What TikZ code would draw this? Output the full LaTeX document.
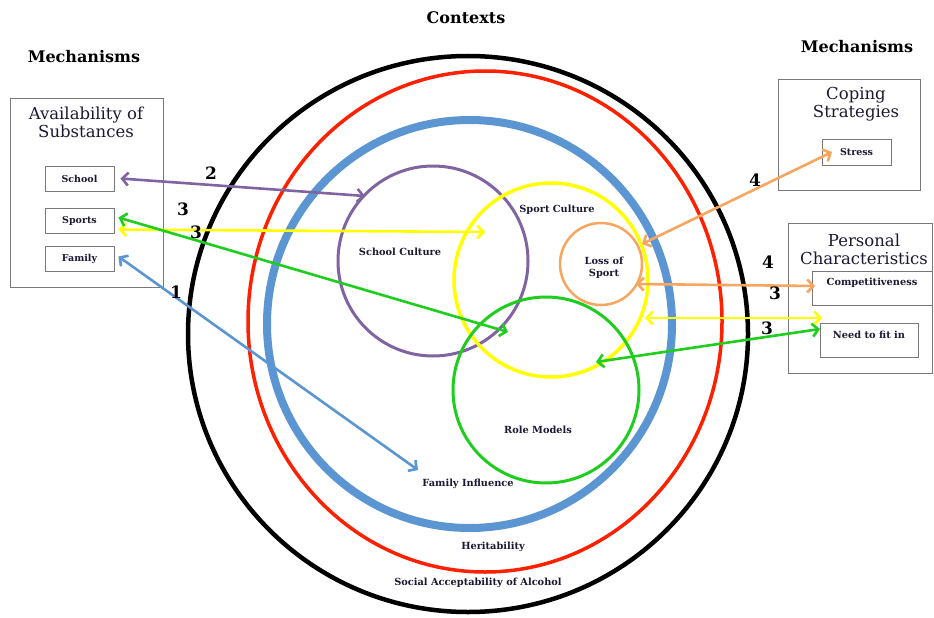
\documentclass[tikz,border=0pt]{standalone}
\usepackage{fontspec}
\setmainfont{DejaVu Serif}
\usetikzlibrary{arrows.meta,shapes.geometric}
\definecolor{cpurple}{RGB}{128,100,162}
\definecolor{cyellow}{RGB}{255,255,0}
\definecolor{cgreen}{RGB}{30,205,30}
\definecolor{cblue}{RGB}{91,150,210}
\definecolor{corange}{RGB}{247,166,95}
\definecolor{cred}{RGB}{255,32,0}
\definecolor{cbox}{RGB}{120,120,120}
\definecolor{ctext}{RGB}{30,25,50}
\tikzset{
  heading/.style={font=\fontsize{16}{18}\selectfont\bfseries, text=black},
  boxtitle/.style={font=\fontsize{16.5}{18}\selectfont, align=center, text=ctext, inner sep=0pt},
  outerbox/.style={draw=cbox, line width=1pt, inner sep=0pt},
  itembox/.style={draw=cbox, line width=0.9pt, inner sep=0pt, font=\fontsize{9.5}{10}\selectfont\bfseries, text=ctext},
  lbl/.style={font=\fontsize{9.8}{11.5}\selectfont\bfseries, text=ctext, align=center, inner sep=0pt},
  num/.style={font=\fontsize{17}{18}\selectfont\bfseries, text=black, inner sep=0pt},
  ring/.style={draw, inner sep=0pt, fill=none},
  conn/.style={line width=2.6pt, {Straight Barb[length=6pt,width=13pt]}-{Straight Barb[length=6pt,width=13pt]}},
}
\begin{document}
\begin{tikzpicture}[x=1pt,y=-1pt]
\useasboundingbox (0,0) rectangle (934,618);
\fill[white] (0,0) rectangle (934,618);

% context rings
\node[ring, ellipse, draw=black, line width=4.5pt, minimum width=560, minimum height=556] (social) at (468,334) {};
\node[ring, ellipse, draw=cred, line width=3.5pt, minimum width=474, minimum height=501] (herit) at (485,321.5) {};
\node[ring, ellipse, draw=cblue, line width=8pt, minimum width=405, minimum height=408] (family) at (469.5,324) {};
\node[ring, circle, draw=cpurple, line width=3pt, minimum size=190] (schoolc) at (433,261) {};
\node[ring, circle, draw=cyellow, line width=3.5pt, minimum size=194] (sportc) at (551,280) {};
\node[ring, circle, draw=corange, line width=2.5pt, minimum size=82] (loss) at (601,264) {};
\node[ring, circle, draw=cgreen, line width=3pt, minimum size=186] (role) at (546,390) {};

% headings
\node[heading] (ctx) at (466,18) {Contexts};
\node[heading] (mechL) at (84,57) {Mechanisms};
\node[heading] (mechR) at (857,47) {Mechanisms};

% left box
\node[outerbox, minimum width=153, minimum height=189] (avail) at (86.5,192.5) {};
\node[boxtitle] (availT) at (86,122) {Availability of\\Substances};
\node[itembox, minimum width=69, minimum height=25] (bschool) at (79.5,178.5) {School};
\node[itembox, minimum width=69, minimum height=25] (bsports) at (79.5,220.5) {Sports};
\node[itembox, minimum width=69, minimum height=25] (bfamily) at (79.5,258.5) {Family};

% right boxes
\node[outerbox, minimum width=142, minimum height=111] (coping) at (849,134.5) {};
\node[boxtitle] (copingT) at (856,104) {Coping\\Strategies};
\node[itembox, minimum width=69, minimum height=26] (bstress) at (856.5,152) {Stress};

\node[outerbox, minimum width=144, minimum height=150] (personal) at (860,298) {};
\node[boxtitle] (personalT) at (864,249) {Personal\\Characteristics};
\node[itembox, minimum width=120, minimum height=34] (bcomp) at (872,288) {};
\node[lbl] (bcompT) at (872,283) {Competitiveness};
\node[itembox, minimum width=98, minimum height=34] (bfit) at (869,340) {};
\node[lbl] (bfitT) at (869,335) {Need to fit in};

% ring labels
\node[lbl] (schoolL) at (400,252) {School Culture};
\node[lbl] (sportL) at (557,210) {Sport Culture};
\node[lbl] (lossL) at (604,268) {Loss of\\Sport};
\node[lbl] (roleL) at (538,430) {Role Models};
\node[lbl] (famL) at (468,484) {Family Influence};
\node[lbl] (herL) at (493,547) {Heritability};
\node[lbl] (socL) at (478,583) {Social Acceptability of Alcohol};

% connector end points
\coordinate (pA) at (365,196);
\coordinate (yA) at (485,232);
\coordinate (gA) at (508,332);
\coordinate (bA) at (418,470);
\coordinate (oA) at (642,244);
\coordinate (oB) at (636,284);
\coordinate (yB) at (645,318);
\coordinate (yC) at (822,318);
\coordinate (gB) at (596,362);
\coordinate (gC) at (820,329);
\coordinate (sE) at (832,152);
\coordinate (cE) at (815,286);

% connectors
\draw[conn, cpurple] ([xshift=6pt]bschool.east) -- (pA);
\draw[conn, cyellow] ([xshift=4pt,yshift=-9pt]bsports.east) -- (yA);
\draw[conn, cgreen] ([xshift=4pt,yshift=3pt]bsports.east) -- (gA);
\draw[conn, cblue] ([xshift=4pt,yshift=2pt]bfamily.east) -- (bA);
\draw[conn, corange] (sE) -- (oA);
\draw[conn, corange] (oB) -- (cE);
\draw[conn, cyellow] (yB) -- (yC);
\draw[conn, cgreen] (gB) -- (gC);

% numbers
\node[num] (n1) at (211,173) {2};
\node[num] (n2) at (183,209) {3};
\node[num] (n3) at (196,232) {3};
\node[num] (n4) at (176,292) {1};
\node[num] (n5) at (755,180) {4};
\node[num] (n6) at (768,262) {4};
\node[num] (n7) at (775,293) {3};
\node[num] (n8) at (767,328) {3};
\end{tikzpicture}
\end{document}
